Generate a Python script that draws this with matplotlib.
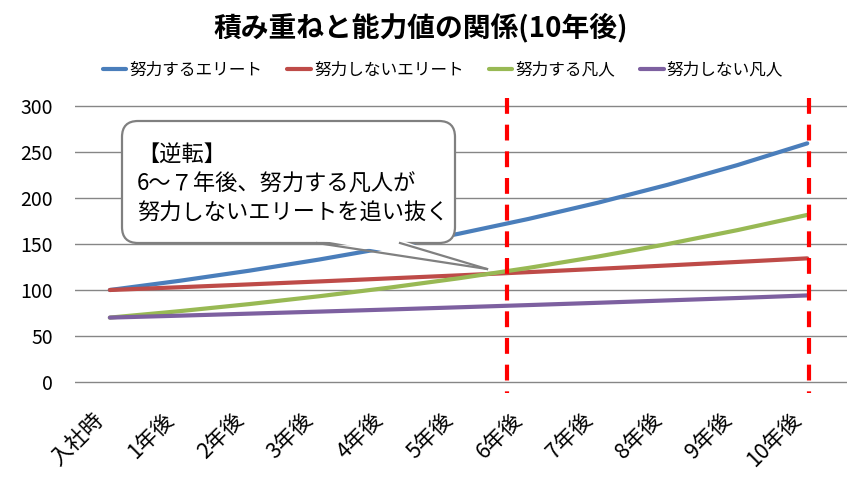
import matplotlib
matplotlib.use("Agg")
import matplotlib.pyplot as plt
from matplotlib.patches import FancyBboxPatch, Polygon
from matplotlib.transforms import IdentityTransform, ScaledTranslation
import numpy as np

plt.rcParams['font.family'] = ['Noto Sans CJK JP', 'DejaVu Sans']

# データ
categories = ['入社時', '1年後', '2年後', '3年後', '4年後', '5年後',
              '6年後', '7年後', '8年後', '9年後', '10年後']
elite_effort = [100, 110, 121, 133.1, 146.4, 161.1, 177.2, 194.9, 214.4, 235.8, 259.4]
elite_lazy = [100, 103, 106.1, 109.3, 112.6, 115.9, 119.4, 123.0, 126.7, 130.5, 134.4]
normal_effort = [70, 77, 84.7, 93.2, 102.5, 112.7, 124.0, 136.4, 150.0, 165.1, 181.6]
normal_lazy = [70, 72.1, 74.3, 76.5, 78.8, 81.2, 83.6, 86.1, 88.7, 91.3, 94.1]
series_names = ['努力するエリート', '努力しないエリート', '努力する凡人', '努力しない凡人']
colors = ['#4A7EBB', '#BE4B48', '#98B954', '#7D60A0']
yticks = [0, 50, 100, 150, 200, 250, 300]
marker_x = [5.7, 10.03]   # 赤い点線の位置

W, H = 847, 484
fig = plt.figure(figsize=(W / 100, H / 100), dpi=100)
ax = fig.add_axes([75 / W, (484 - 386.6) / H, 1 - 75 / W, (386.6 - 101.4) / H])

x = np.arange(len(categories))
lines = []
for vals, name, c in zip([elite_effort, elite_lazy, normal_effort, normal_lazy], series_names, colors):
    l, = ax.plot(x, vals, color=c, lw=3, label=name, solid_capstyle='round', zorder=3)
    lines.append(l)

ax.set_xlim(-0.5, 10.57)
ax.set_ylim(-5, 305)
ax.set_yticks(yticks)
ax.set_yticklabels([str(v) for v in yticks], fontsize=14)
ax.set_xticks(x)
ax.set_xticklabels(categories, fontsize=15.5, rotation=45, ha='right', va='top',
                   rotation_mode='anchor')
ax.tick_params(axis='both', length=0)
ax.tick_params(axis='y', pad=16)
ax.tick_params(axis='x', pad=16)
shift = ScaledTranslation(-17 / 100, 0, fig.dpi_scale_trans)
for lab in ax.get_xticklabels():
    lab.set_transform(lab.get_transform() + shift)
for s in ax.spines.values():
    s.set_visible(False)
for v in yticks:
    ax.axhline(v, color='#868686', lw=1, zorder=1)

for mx in marker_x:
    ax.plot([mx, mx], [309, -12], color='#FF0000', lw=3, dashes=(3.8, 2.6),
            solid_capstyle='butt', dash_capstyle='butt', clip_on=False, zorder=4)

fig.text(421 / W, 1 - 28 / H, '積み重ねと能力値の関係(10年後)', ha='center', va='center',
         fontsize=20, fontweight='bold')

fig.legend(handles=lines, loc='center', bbox_to_anchor=(443 / W, 1 - 70 / H), ncol=4,
           frameon=False, fontsize=12, handlelength=1.4, handletextpad=0.2,
           columnspacing=1.5)

# 吹き出し (ピクセル座標)
def px(xp, yp):
    return (xp, H - yp)

ident = IdentityTransform()
box = FancyBboxPatch(px(122, 243), 333, 122, boxstyle='round,pad=0,rounding_size=16',
                     transform=ident, facecolor='white', edgecolor='#808080', lw=1.6,
                     zorder=6)
fig.add_artist(box)
tail_fill = Polygon([px(318, 240), px(400, 240), px(487, 269)], closed=True,
                    transform=ident, facecolor='white', edgecolor='none', zorder=7)
fig.add_artist(tail_fill)
for (a, b) in [((317, 243), (487, 269)), ((400, 243), (487, 269))]:
    fig.add_artist(plt.Line2D([a[0], b[0]], [H - a[1], H - b[1]], transform=ident,
                              color='#808080', lw=1.6, zorder=8))
fig.text(137 / W, 1 - 143 / H, '【逆転】\n6～７年後、努力する凡人が\n努力しないエリートを追い抜く',
         ha='left', va='top', fontsize=16, linespacing=1.33, zorder=9)

fig.savefig('out.png', dpi=100)
